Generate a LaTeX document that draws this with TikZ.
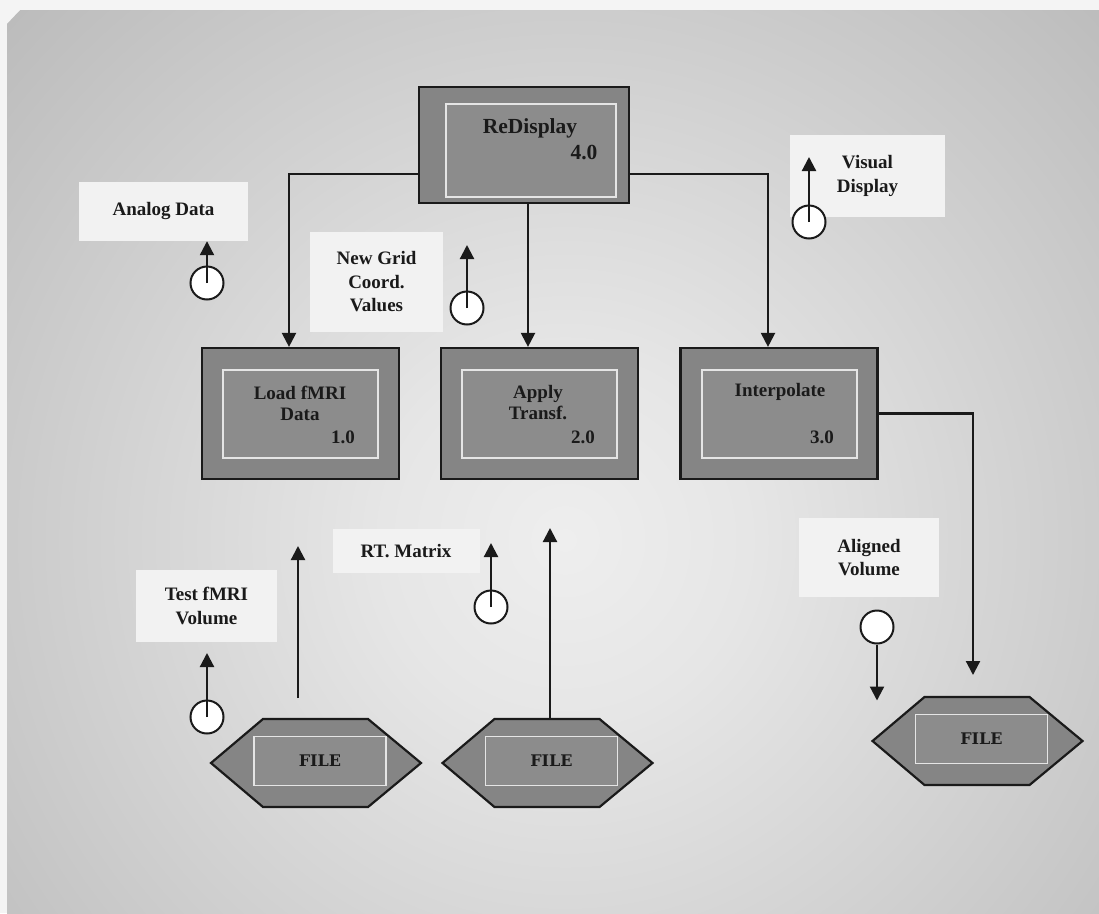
\documentclass[tikz,border=0pt]{standalone}
\usepackage{fontspec}
\setmainfont{Liberation Serif}
\newfontfamily\filefont{DejaVu Serif}
\usetikzlibrary{arrows.meta,calc}

\definecolor{pagebg}{HTML}{F4F4F4}
\definecolor{bgin}{HTML}{EEEEEE}
\definecolor{bgmid}{HTML}{E6E6E6}
\definecolor{bgout}{HTML}{A6A6A6}
\definecolor{bgedge}{HTML}{9E9E9E}
\definecolor{procfill}{HTML}{858585}
\definecolor{notefill}{HTML}{F2F2F2}
\definecolor{ink}{HTML}{1A1A1A}
\pgfdeclareradialshading{bgglow}{\pgfpoint{0bp}{0bp}}{color(0bp)=(bgin); color(6bp)=(bgmid); color(35bp)=(bgout); color(50bp)=(bgedge)}

% data store: hexagon with an inner framed label
\newcommand\filehex[3]{%
  \coordinate (#1) at (#2,#3);
  \draw[hexbox] ($(#1)+(-105,0)$) -- ($(#1)+(-53,-44)$) -- ($(#1)+(52,-44)$)
    -- ($(#1)+(105,0)$) -- ($(#1)+(52,44)$) -- ($(#1)+(-53,44)$) -- cycle;
  \node[fileinner] (#1in) at ($(#1)+(4,-2)$) {FILE};
}

\begin{document}
\begin{tikzpicture}[x=1pt,y=-1pt,
  procbox/.style={draw=ink, line width=2.2pt, fill=procfill, minimum width=197pt,
    minimum height=131pt, inner sep=0pt},
  procinner/.style={draw=white!90!black, line width=1.4pt, fill=procfill!94!white,
    minimum width=155pt, minimum height=88pt, inner sep=0pt},
  proclabel/.style={font=\fontsize{19}{21.5}\selectfont\bfseries, text=ink, align=center, inner sep=0pt},
  note/.style={fill=notefill, inner sep=0pt, align=center,
    font=\fontsize{19}{23.5}\selectfont\bfseries, text=ink},
  flow/.style={draw=ink, line width=2.2pt, -{Triangle[length=14pt,width=14pt]}},
  hole/.style={circle, draw=ink, line width=2pt, fill=white, minimum size=33pt, inner sep=0pt},
  hexbox/.style={draw=ink, line width=2.2pt, fill=procfill},
  fileinner/.style={draw=white!90!black, line width=1.4pt, fill=procfill!94!white,
    minimum width=132pt, minimum height=49pt, inner sep=0pt,
    font=\filefont\fontsize{16}{18}\selectfont\bfseries, text=ink}
]
\useasboundingbox (0,0) rectangle (1099,913);
\fill[pagebg] (0,0) rectangle (1099,913);
\begin{scope}
  \clip (7,10) rectangle (1099,913);
  \shade[shading=bgglow] (565,540) circle (760pt);
\end{scope}

% processes
\node[procbox, minimum width=210pt, minimum height=116pt] (redisp) at (524,145) {};
\node[procinner, minimum width=170pt, minimum height=93pt] (redispin) at (531,150.5) {};
\node[proclabel, font=\fontsize{21.5}{24}\selectfont\bfseries] (redisptitle) at (530,128) {ReDisplay};
\node[proclabel, font=\fontsize{21.5}{24}\selectfont\bfseries] (redispnum) at (584,152) {4.0};

\node[procbox] (load) at (300.5,413.5) {};
\node[procinner] (loadin) at (300.5,414) {};
\node[proclabel] (loadtitle) at (300,403.5) {Load fMRI\\Data};
\node[proclabel] (loadnum) at (343,437) {1.0};

\node[procbox] (apply) at (539.5,413.5) {};
\node[procinner] (applyin) at (539.5,414) {};
\node[proclabel] (applytitle) at (538,402.5) {Apply\\Transf.};
\node[proclabel] (applynum) at (583,437) {2.0};

\node[procbox] (interp) at (779,413.5) {};
\node[procinner] (interpin) at (779.5,414) {};
\node[proclabel] (interptitle) at (780,392) {Interpolate};
\node[proclabel] (interpnum) at (822,437) {3.0};

% data stores
\filehex{fileA}{316}{763}
\filehex{fileB}{547.5}{763}
\filehex{fileC}{977.5}{741}

% data flow labels
\node[note, minimum width=169pt, minimum height=59pt] (analog) at (163.5,211.5) {Analog Data};
\node[note, minimum width=133pt, minimum height=100pt] (newgrid) at (376.5,282) {New Grid\\Coord.\\Values};
\node[note, minimum width=155pt, minimum height=82pt] (visual) at (867.5,176) {Visual\\Display};
\node[note, minimum width=147pt, minimum height=44pt] (rtmat) at (406,551) {RT. Matrix};
\node[note, minimum width=141pt, minimum height=72pt] (testvol) at (206.5,606) {Test fMRI\\Volume};
\node[note, minimum width=140pt, minimum height=79pt] (aligned) at (869,557.5) {Aligned\\Volume};

% control connectors
\draw[flow] ([yshift=-29pt]redisp.west) -| ([xshift=-11.5pt]load.north);
\draw[flow] ([xshift=4pt]redisp.south) -- ([xshift=-11.5pt]apply.north);
\draw[flow] ([yshift=-29pt]redisp.east) -| ([xshift=-11pt]interp.north);

% data connectors
\coordinate (outtip) at (973,675);
\draw[flow] (interp.east) -| (outtip);
\coordinate (inAfoot) at (298,698);
\coordinate (inAtip) at (298,546);
\draw[flow] (inAfoot) -- (inAtip);
\coordinate (inBfoot) at (550,719);
\coordinate (inBtip) at (550,528);
\draw[flow] (inBfoot) -- (inBtip);

% data couples
\node[hole] (c1) at (207,283) {};
\draw[flow] (c1.center) -- (c1.center |- analog.south);
\node[hole] (c2) at (467,308) {};
\draw[flow] (c2.center) -- ++(0,-63);
\node[hole] (c3) at (809,222) {};
\draw[flow] (c3.center) -- ++(0,-65);
\node[hole] (c4) at (491,607) {};
\draw[flow] (c4.center) -- ++(0,-64);
\node[hole] (c5) at (207,717) {};
\draw[flow] (c5.center) -- ++(0,-64);
\node[hole] (c6) at (877,627) {};
\draw[flow] (c6.south) -- ++(0,56);
\end{tikzpicture}
\end{document}
